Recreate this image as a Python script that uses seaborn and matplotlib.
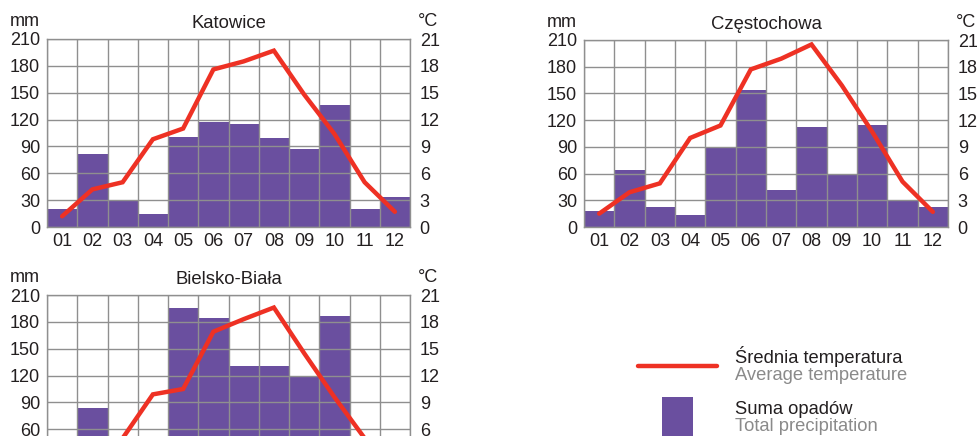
import numpy as np
import pandas as pd
import matplotlib
matplotlib.use("Agg")
import matplotlib.pyplot as plt
from matplotlib.lines import Line2D
from matplotlib.patches import Rectangle
import seaborn as sns

sns.set_style("white")
plt.rcParams['font.family'] = ['Liberation Sans', 'DejaVu Sans']

months = ['01', '02', '03', '04', '05', '06', '07', '08', '09', '10', '11', '12']

kat_prec = [20, 81, 30, 15, 101, 117, 115, 99, 87, 136, 20, 33]
kat_temp = [1.2, 4.2, 5.0, 9.8, 11.0, 17.6, 18.5, 19.7, 14.8, 10.4, 5.0, 1.7]

cze_prec = [18, 64, 23, 13, 89, 154, 41, 112, 60, 115, 30, 23]
cze_temp = [1.5, 3.9, 4.9, 10.0, 11.4, 17.7, 18.9, 20.5, 15.9, 10.7, 5.1, 1.7]

# months 01, 03, 04, 11, 12 fall below the visible part of the panel
bie_prec = [40, 84, 45, 50, 196, 184, 131, 131, 119, 187, 50, 45]
bie_temp = [1.0, 3.4, 5.0, 9.9, 10.5, 16.9, 18.3, 19.6, 14.5, 9.6, 5.0, 1.5]

prec_ticks = [0, 30, 60, 90, 120, 150, 180, 210]
temp_ticks = [0, 3, 6, 9, 12, 15, 18, 21]

BAR = '#6a4f9f'
RED = '#ee3124'
GRID = '#8f8f8f'
TXT = '#231f20'
GREY_TXT = '#8a8a8a'

W, H = 978, 436
fig = plt.figure(figsize=(W / 100, H / 100), dpi=100)


def px_axes(x0, y_top, w, h):
    return fig.add_axes([x0 / W, (H - y_top - h) / H, w / W, h / H])


def climate(ax, title, prec, temp, xlabels=True):
    df = pd.DataFrame({'month': months, 'prec': prec, 'temp': temp})
    sns.barplot(data=df, x='month', y='prec', color=BAR, width=1.0,
                saturation=1, edgecolor='none', linewidth=0, ax=ax, zorder=1)
    ax.set_xlim(-0.5, 11.5)
    ax.set_ylim(0, 210)
    ax.set_yticks(prec_ticks)
    ax.set_xticks(np.arange(-0.5, 12, 1), minor=True)
    ax.set_axisbelow(False)
    ax.grid(axis='y', which='major', color=GRID, lw=1, zorder=2)
    ax.grid(axis='x', which='minor', color=GRID, lw=1, zorder=2)
    ax.grid(axis='x', which='major', visible=False)
    ax.set_xlabel('')
    ax.set_ylabel('')
    ax.tick_params(axis='both', which='both', length=0, labelsize=13,
                   labelcolor=TXT)
    ax.tick_params(axis='y', pad=5)
    ax.tick_params(axis='x', pad=4, labelbottom=xlabels)
    for s in ax.spines.values():
        s.set_color(GRID)
        s.set_linewidth(1)
    ax.set_title(title, fontsize=13.3, color=TXT, pad=8)
    ax.text(-0.019, 1.069, 'mm', transform=ax.transAxes, ha='right',
            va='baseline', fontsize=13, color=TXT)
    ax.text(1.021, 1.069, '°C', transform=ax.transAxes, ha='left',
            va='baseline', fontsize=13, color=TXT)

    ax2 = ax.twinx()
    sns.lineplot(data=df, x='month', y='temp', color=RED, lw=3.2, ax=ax2,
                 solid_capstyle='round', solid_joinstyle='miter', sort=False)
    ax2.set_ylim(0, 21)
    ax2.set_yticks(temp_ticks)
    ax2.set_ylabel('')
    ax2.set_xlabel('')
    ax2.grid(False)
    ax2.tick_params(axis='y', length=0, labelsize=13, labelcolor=TXT, pad=7)
    for s in ax2.spines.values():
        s.set_visible(False)
    ax.set_xlim(-0.5, 11.5)


ax_k = px_axes(47, 39, 363, 188)
climate(ax_k, 'Katowice', kat_prec, kat_temp)

ax_c = px_axes(584, 40, 364, 187)
climate(ax_c, 'Częstochowa', cze_prec, cze_temp)

# lower panel runs past the bottom edge of the picture
ax_b = px_axes(47, 295, 363, 188)
climate(ax_b, 'Bielsko-Biała', bie_prec, bie_temp, xlabels=False)

# legend
fig.add_artist(Line2D([638 / W, 717 / W], [(H - 366) / H, (H - 366) / H],
                      transform=fig.transFigure, color=RED, lw=3.2,
                      solid_capstyle='round'))
fig.add_artist(Rectangle((662 / W, (H - 442) / H), 31 / W, 45 / H,
                         transform=fig.transFigure, facecolor=BAR,
                         edgecolor='none'))
fig.text(735 / W, (H - 363) / H, 'Średnia temperatura', fontsize=13.2,
         color=TXT, va='baseline')
fig.text(735 / W, (H - 379.5) / H, 'Average temperature', fontsize=13.2,
         color=GREY_TXT, va='baseline')
fig.text(735 / W, (H - 414) / H, 'Suma opadów', fontsize=13.2,
         color=TXT, va='baseline')
fig.text(735 / W, (H - 430.5) / H, 'Total precipitation', fontsize=13.2,
         color=GREY_TXT, va='baseline')

fig.savefig('out.png', dpi=100, facecolor='white')
